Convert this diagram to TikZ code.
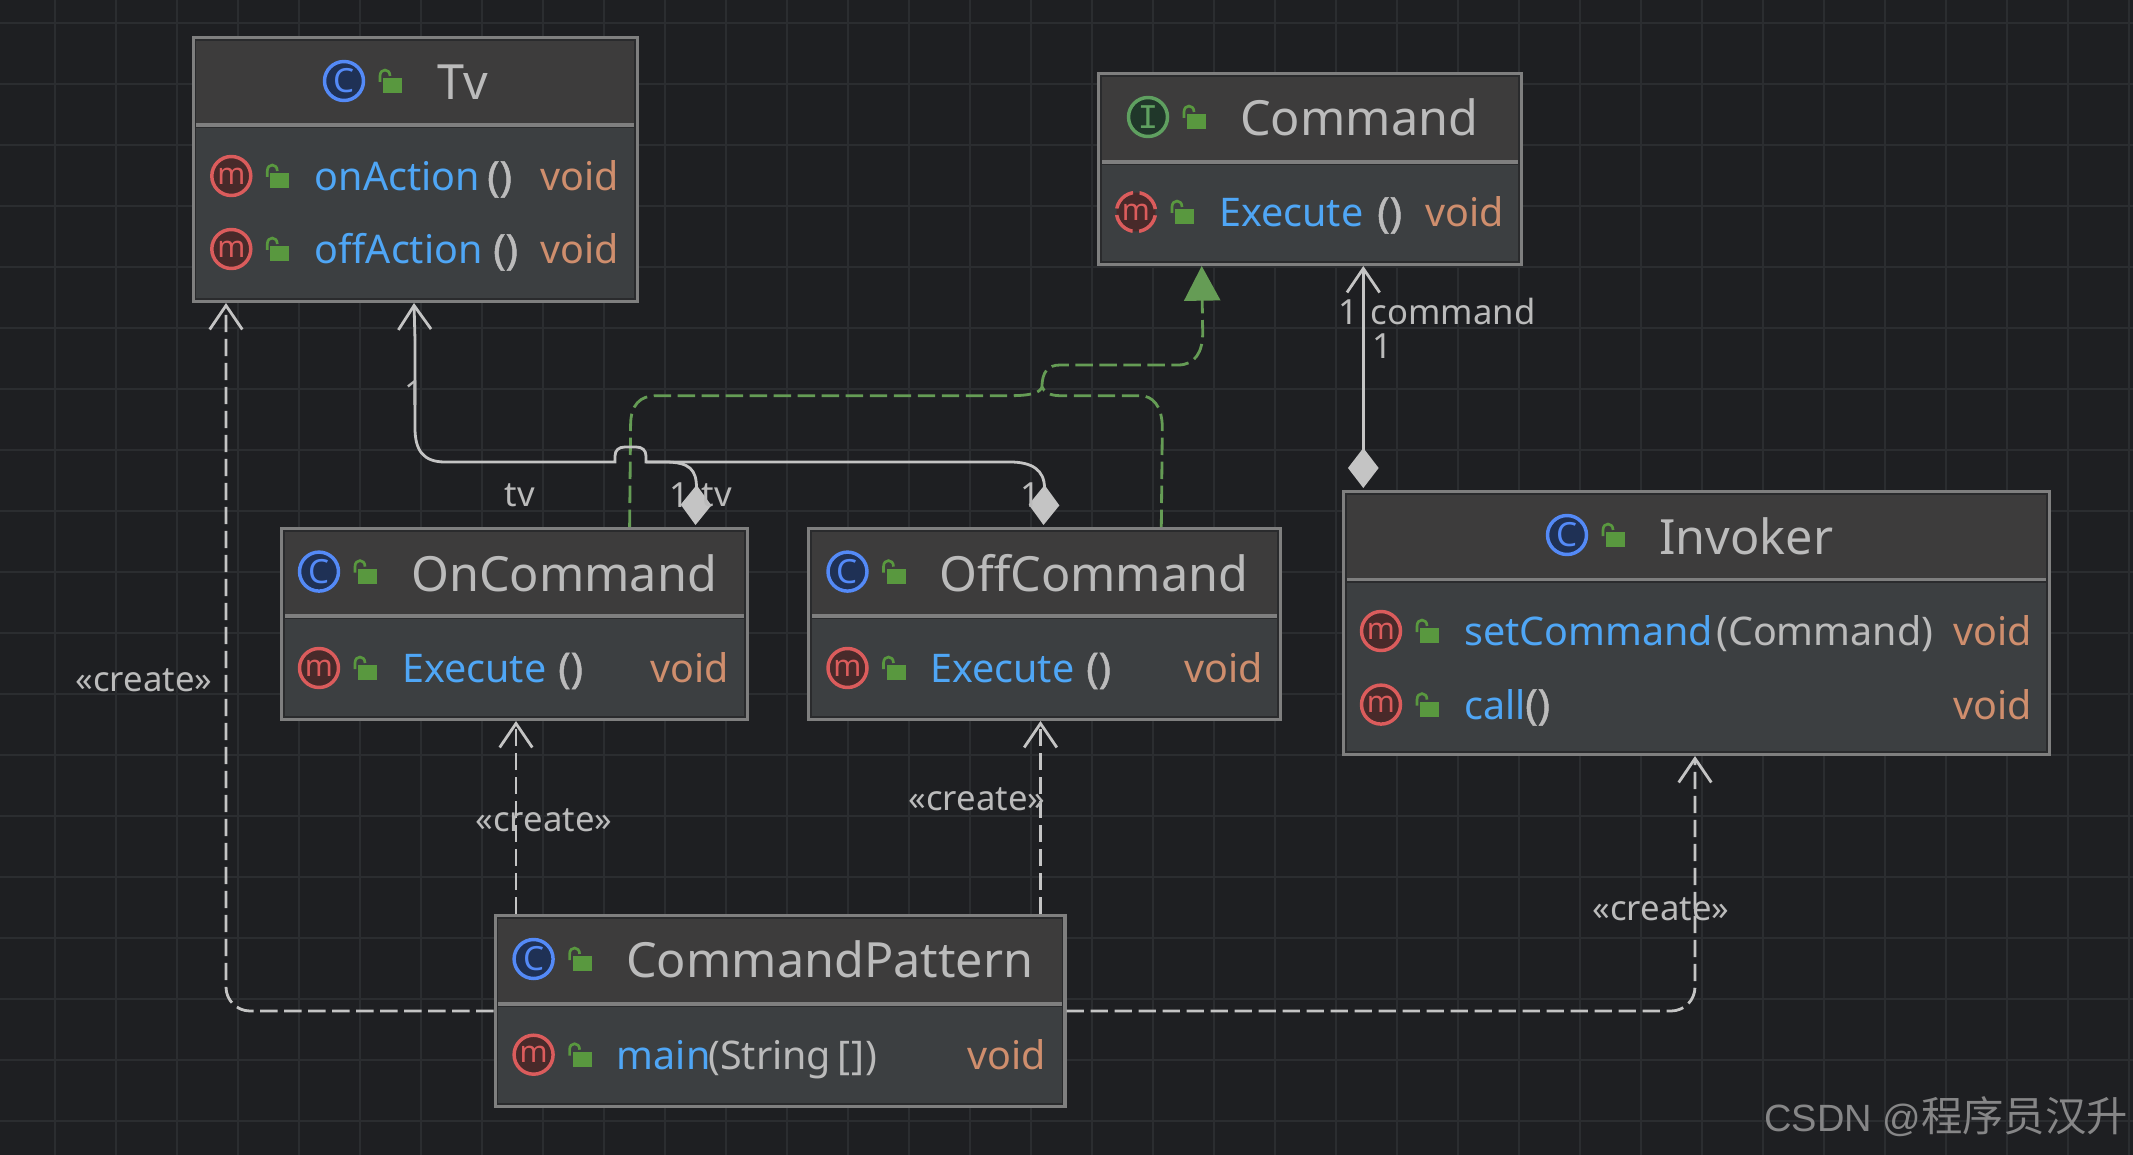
\documentclass[tikz,border=0pt]{standalone}
\usepackage{fontspec}
\setmainfont{Noto Sans}
\newfontfamily\cjkfont{Noto Sans CJK SC}
\newfontfamily\arialfont{Liberation Sans}
\newfontfamily\monofont{Liberation Mono}
\usetikzlibrary{arrows.meta,calc,fit}
\definecolor{bgc}{HTML}{1E1F22}
\definecolor{gridc}{HTML}{2B2D30}
\definecolor{headc}{HTML}{3D3C3C}
\definecolor{bodyc}{HTML}{3C3F41}
\definecolor{borderc}{HTML}{7F7F7F}
\definecolor{innerc}{HTML}{2A2B2D}
\definecolor{textc}{HTML}{BBBBBB}
\definecolor{methodc}{HTML}{4FA6F5}
\definecolor{voidc}{HTML}{CF8E6D}
\definecolor{linec}{HTML}{C4C4C4}
\definecolor{greenc}{HTML}{659C55}
\definecolor{lockc}{HTML}{59983F}
\definecolor{blueS}{HTML}{548AF7}
\definecolor{blueF}{HTML}{1F3155}
\definecolor{redS}{HTML}{DB5C5C}
\definecolor{redF}{HTML}{482A2A}
\definecolor{grnS}{HTML}{5FA060}
\definecolor{grnF}{HTML}{20372A}
\tikzset{
  boxframe/.style={draw=borderc,line width=2.4pt,inner sep=0pt,outer sep=1.2pt,rectangle},
  titletext/.style={anchor=base west,inner sep=0pt,text=textc,font=\fontsize{36.4}{36.4}\selectfont},
  methodtext/.style={anchor=base west,inner sep=0pt,text=methodc,font=\fontsize{29.6}{29.6}\selectfont},
  plaintext/.style={anchor=base west,inner sep=0pt,text=textc,font=\fontsize{29.6}{29.6}\selectfont},
  parentext/.style={anchor=base west,inner sep=0pt,text=textc,font=\fontsize{31}{31}\selectfont\addfontfeature{FakeBold=1.2}},
  voidtext/.style={anchor=base east,inner sep=0pt,text=voidc,font=\fontsize{29.6}{29.6}\selectfont},
  edgelabel/.style={inner sep=0pt,text=textc,font=\fontsize{26}{26}\selectfont},
  openhead/.style={-{Straight Barb[length=18pt,width=24.5pt]}},
  createlink/.style={draw=linec,line width=2.1pt,dash pattern=on 13pt off 5pt,rounded corners=18pt,openhead},
  assoclink/.style={draw=linec,line width=2.1pt},
  realizelink/.style={draw=greenc,line width=2.1pt,dash pattern=on 13pt off 5pt},
}
% name, x1, y1, x2, y2, divider y
\newcommand{\classbox}[6]{
  \fill[bodyc] ({#2-1},{#3-1}) rectangle ({#4+1},{#5+1});
  \fill[headc] ({#2-1},{#3-1}) rectangle ({#4+1},#6);
  \draw[borderc,line width=2.4pt] (#2,#6) -- (#4,#6);
  \draw[innerc,line width=.8pt] ({#2+3},{#6+2.5}) -- ({#4-3},{#6+2.5});
  \draw[innerc,line width=.8pt] ({#2+3},{#3+3}) rectangle ({#4-3},{#5-3});
  \coordinate (#1-a) at ({#2+.6},{#3+.6});
  \coordinate (#1-b) at ({#4-.6},{#5-.6});
  \node[boxframe,fit=(#1-a)(#1-b)] (#1) {};
}
\newcommand{\lockat}[2]{
  \fill[lockc] ({#1+39},{#2-3}) rectangle ({#1+58},{#2+12});
  \draw[lockc,line width=2pt] ({#1+36},{#2+1}) -- ({#1+36},{#2-5}) .. controls ({#1+36},{#2-13}) and ({#1+46},{#2-13}) .. ({#1+46},{#2-5});
}
% name, cx, cy, stroke, fill, letter content, extra
\newcommand{\iconat}[7]{
  \draw[#4,fill=#5,line width=2.6pt,#7] (#2,#3) circle[radius=19.5];
  \node[inner sep=0pt,text=#4] (#1) at (#2,#3) {#6};
  \lockat{#2}{#3}
}
\newcommand{\Cicon}[3]{\iconat{#1}{#2}{#3}{blueS}{blueF}{\fontsize{25}{25}\selectfont C}{}}
\newcommand{\Micon}[3]{\iconat{#1}{#2}{#3}{redS}{redF}{\fontsize{22.5}{22.5}\selectfont m}{}}
\begin{document}
\begin{tikzpicture}[x=.75pt,y=-.75pt]
\useasboundingbox (0,0) rectangle (2133,1155);
\fill[bgc] (0,0) rectangle (2133,1155);
\foreach \k in {0,...,34} \draw[gridc,line width=.9pt] ({55+61*\k},0) -- ({55+61*\k},1155);
\foreach \k in {0,...,18} \draw[gridc,line width=.9pt] (0,{23+61*\k}) -- (2133,{23+61*\k});

% classes
\classbox{tv}{192.7}{37}{638}{302}{125}
\classbox{cmd}{1098}{73}{1522}{265}{162}
\classbox{oncmd}{281}{528}{748}{720}{616}
\classbox{offcmd}{808}{528}{1281}{720}{616}
\classbox{inv}{1343}{491}{2050}{755}{579.5}
\classbox{cp}{494.5}{915}{1065.5}{1107}{1004}

% connectors: realizations
\coordinate (merge) at (1042,387);
\draw[realizelink] ($(oncmd.north west)+(349.6,0)$) -- (630.6,425) .. controls (630.6,405) and (640,395.7) .. (656,395.7) -- (1010,395.7) .. controls (1030,395.7) and (1040,393) .. (merge);
\draw[realizelink] ($(offcmd.north west)+(354.3,0)$) -- (1162.3,428) .. controls (1162.3,405) and (1152,395.7) .. (1140,395.7) -- (1060,395.7) .. controls (1050,395.7) and (1044,392) .. (merge);
\draw[realizelink,-{Triangle[length=26pt,width=27pt]}] (merge) .. controls (1042,372) and (1048,365) .. (1060,365) -- (1178,365) .. controls (1195,365) and (1202.7,352) .. (1202.7,333) -- ($(cmd.south west)+(104.7,0)$);

% connectors: create
\draw[createlink] (cp.west) -| ($(tv.south west)+(34.3,0)$);
\draw[createlink] (cp.east) -| ($(inv.south west)+(353,0)$);
\draw[createlink] ($(cp.north west)+(22.5,0)$) -- ($(oncmd.south west)+(236,0)$);
\draw[createlink] ($(cp.north west)+(547,0)$) -- ($(offcmd.south west)+(233.5,0)$);

% connectors: associations
\draw[assoclink,{Diamond[length=30pt,width=23pt]}-] ($(oncmd.north west)+(415.5,-2)$) -- (696.5,488) .. controls (696.5,470) and (690,462) .. (665,462) -- (646,462);
\draw[assoclink,{Diamond[length=30pt,width=23pt]}-] ($(offcmd.north west)+(236.5,-2)$) -- (1044.5,488) .. controls (1044.5,470) and (1032,462) .. (1010,462) -- (646,462) -- (646,456) .. controls (646,450) and (642,447) .. (636,447) -- (625,447) .. controls (619,447) and (615,450) .. (615,456) -- (615,462) -- (445,462) .. controls (423,462) and (415,450) .. (415,428) -- (415,340);
\draw[assoclink,openhead] (415,340) -- ($(tv.south west)+(222.3,0)$);
\draw[assoclink,{Diamond[length=30pt,width=23pt]}-{Straight Barb[length=18pt,width=24.5pt]}] ($(inv.north west)+(21.3,-2)$) -- ($(cmd.south west)+(266.3,0)$);

% Tv
\Cicon{tvI}{344}{81}
\node[titletext] (tvT) at (437,100) {Tv};
\Micon{tvM1}{231.3}{176}
\node[methodtext] (tvM1t) at (314.5,191) {onAction};
\node[parentext] (tvM1p) at (487,191) {()};
\node[voidtext] (tvM1v) at (619,191) {void};
\Micon{tvM2}{231.3}{249}
\node[methodtext] (tvM2t) at (314.5,264) {offAction};
\node[parentext] (tvM2p) at (493,264) {()};
\node[voidtext] (tvM2v) at (619,264) {void};

% Command
\iconat{cmdI}{1148}{117}{grnS}{grnF}{\monofont\fontsize{26}{26}\selectfont I}{}
\node[titletext] (cmdT) at (1240,136) {Command};
\iconat{cmdM}{1136}{212}{redS}{redF}{\fontsize{22.5}{22.5}\selectfont m}{dash pattern=on 18.1pt off 4.9pt,dash phase=20.5pt}
\node[methodtext] (cmdMt) at (1219,227) {Execute};
\node[parentext] (cmdMp) at (1377,227) {()};
\node[voidtext] (cmdMv) at (1504,227) {void};

% OnCommand
\Cicon{onI}{319}{571.6}
\node[titletext] (onT) at (411,591) {OnCommand};
\Micon{onM}{319}{668}
\node[methodtext] (onMt) at (402,682.5) {Execute};
\node[parentext] (onMp) at (558,682.5) {()};
\node[voidtext] (onMv) at (729,682.5) {void};

% OffCommand
\Cicon{offI}{847.5}{571.6}
\node[titletext] (offT) at (939,591) {OffCommand};
\Micon{offM}{847.5}{668}
\node[methodtext] (offMt) at (930,682.5) {Execute};
\node[parentext] (offMp) at (1086,682.5) {()};
\node[voidtext] (offMv) at (1263,682.5) {void};

% Invoker
\Cicon{invI}{1567}{535}
\node[titletext] (invT) at (1659,554) {Invoker};
\Micon{invM1}{1381}{631}
\node[methodtext] (invM1t) at (1464,645.5) {setCommand};
\node[plaintext] (invM1p) at (1716,645.5) {(Command)};
\node[voidtext] (invM1v) at (2032,645.5) {void};
\Micon{invM2}{1381}{704.6}
\node[methodtext] (invM2t) at (1464,719) {call};
\node[parentext] (invM2p) at (1525,719) {()};
\node[voidtext] (invM2v) at (2032,719) {void};

% CommandPattern
\Cicon{cpI}{533.6}{959}
\node[titletext] (cpT) at (626,977) {CommandPattern};
\Micon{cpM}{533.6}{1054.7}
\node[methodtext] (cpMt) at (616.5,1069.5) {main};
\node[plaintext] (cpMp) at (708,1069.5) {(String\,[\kern.5pt]\kern1pt)};
\node[voidtext] (cpMv) at (1046,1069.5) {void};

% edge labels
\node[edgelabel] (l1) at (414,393) {1};
\node[edgelabel] (l2) at (520,495) {tv};
\node[edgelabel] (l3) at (679,495) {1};
\node[edgelabel] (l4) at (717,495) {tv};
\node[edgelabel] (l5) at (1030,495) {1};
\node[edgelabel] (l6) at (1348,312) {1};
\node[edgelabel] (l7) at (1453,312) {command};
\node[edgelabel] (l8) at (1382,346) {1};
\node[edgelabel] (c1) at (144,680) {«create»};
\node[edgelabel] (c2) at (544,820) {«create»};
\node[edgelabel] (c3) at (977,799) {«create»};
\node[edgelabel] (c4) at (1661,909) {«create»};

% watermark
\node[anchor=base east,inner sep=0pt,text=black!30!white!70!bgc] (wm) at (2128,1131) {\arialfont\fontsize{28.5}{28.5}\selectfont CSDN @\cjkfont\fontsize{31}{31}\selectfont 程序员汉升};
\end{tikzpicture}
\end{document}
